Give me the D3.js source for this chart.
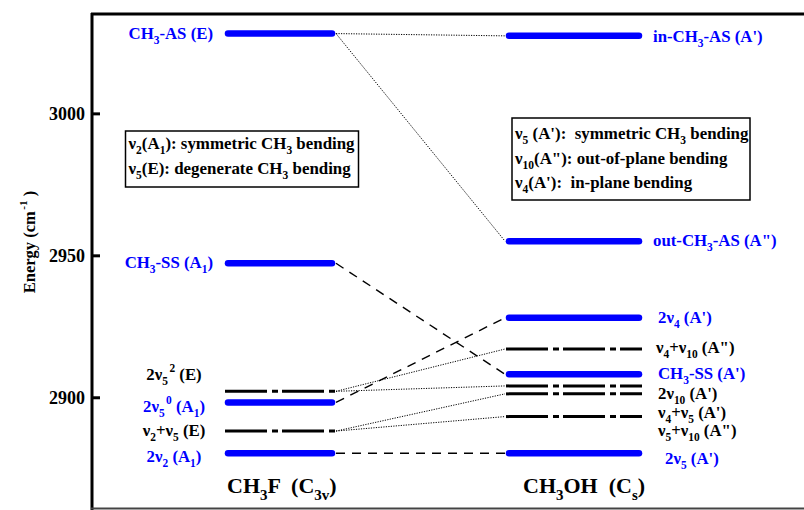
<!DOCTYPE html>
<html>
<head>
<meta charset="utf-8">
<script src="https://cdn.jsdelivr.net/npm/d3@7/dist/d3.min.js"></script>
<style>
  html, body { margin: 0; padding: 0; background: #ffffff; }
  text { font-family: "Liberation Serif", "Times New Roman", serif; font-weight: bold; white-space: pre; }
</style>
</head>
<body>
<script>
// ---- Vibrational levels (cm^-1) in the CH stretch region ----
// Markup in names: _{x} subscript, ^{x} superscript
const ch3fNames    = ["CH_{3}-AS (E)", "CH_{3}-SS (A_{1})", "2ν_{5}^{2} (E)", "2ν_{5}^{0} (A_{1})", "ν_{2}+ν_{5} (E)", "2ν_{2} (A_{1})"];
const ch3fEnergies = [3028.1, 2947.2, 2902.1, 2898.2, 2888.1, 2880.3];
const ch3fBright   = [true, true, false, true, false, true];

const ch3ohNames    = ["in-CH_{3}-AS (A')", "out-CH_{3}-AS (A\")", "2ν_{4} (A')", "ν_{4}+ν_{10} (A\")", "CH_{3}-SS (A')", "2ν_{10} (A')", "ν_{4}+ν_{5} (A')", "ν_{5}+ν_{10} (A\")", "2ν_{5} (A')"];
const ch3ohEnergies = [3027.3, 2955.0, 2928.0, 2917.0, 2908.1, 2904.0, 2901.2, 2893.2, 2880.3];
const ch3ohBright   = [true, true, true, false, true, false, false, false, true];

// Correlations between CH3F levels (from) and CH3OH levels (to)
const linkFrom  = ["CH_{3}-AS (E)", "CH_{3}-AS (E)", "CH_{3}-SS (A_{1})", "2ν_{5}^{0} (A_{1})", "2ν_{2} (A_{1})", "2ν_{5}^{2} (E)", "2ν_{5}^{2} (E)", "ν_{2}+ν_{5} (E)", "ν_{2}+ν_{5} (E)"];
const linkTo    = ["in-CH_{3}-AS (A')", "out-CH_{3}-AS (A\")", "CH_{3}-SS (A')", "2ν_{4} (A')", "2ν_{5} (A')", "ν_{4}+ν_{10} (A\")", "2ν_{10} (A')", "ν_{4}+ν_{5} (A')", "ν_{5}+ν_{10} (A\")"];
const linkKind  = ["dotted", "dotted", "dashed", "dashed", "dashed", "dotted", "dotted", "dotted", "dotted"];

const yTicks = [2900, 2950, 3000];
const yDomain = [2861, 3035];

const molecules = ["CH_{3}F  (C_{3v})", "CH_{3}OH  (C_{s})"];
const legendCH3F  = ["ν_{2}(A_{1}): symmetric CH_{3} bending", "ν_{5}(E): degenerate CH_{3} bending"];
const legendCH3OH = ["ν_{5} (A'):  symmetric CH_{3} bending", "ν_{10}(A\"): out-of-plane bending", "ν_{4}(A'):  in-plane bending"];

// ---- Drawing ----
const W = 804, H = 510;
const BLUE = "#0000ff";
const svg = d3.select("body").append("svg").attr("width", W).attr("height", H);

const y = d3.scaleLinear().domain(yDomain).range([508, 14]);

// column extents for the two molecules
const col = [{x0: 225, x1: 335}, {x0: 506, x1: 642}];

// rich text with sub/superscripts
function rich(sel, str, size) {
  const re = /(_\{[^}]*\}|\^\{[^}]*\}|[^_^]+)/g;
  let shift = 0, m;
  while ((m = re.exec(str)) !== null) {
    const tok = m[0];
    let target = 0, sz = size, content = tok, dx = 0;
    if (tok.startsWith("_{")) { target = 0.3 * size; sz = 0.68 * size; content = tok.slice(2, -1); }
    else if (tok.startsWith("^{")) { target = -0.5 * size; sz = 0.68 * size; content = tok.slice(2, -1); dx = 1.5; }
    sel.append("tspan").attr("dy", target - shift).attr("dx", dx).style("font-size", sz + "px").text(content);
    shift = target;
  }
  return sel;
}

// spines
svg.append("line").attr("x1", 92).attr("x2", 92).attr("y1", 13).attr("y2", 510)
  .attr("stroke", "#000").attr("stroke-width", 3);
svg.append("line").attr("x1", 91).attr("x2", W).attr("y1", 14).attr("y2", 14)
  .attr("stroke", "#000").attr("stroke-width", 3);
svg.append("line").attr("x1", 91).attr("x2", W).attr("y1", 508.5).attr("y2", 508.5)
  .attr("stroke", "#444").attr("stroke-width", 2);

// y axis with inward ticks
const axis = svg.append("g").attr("transform", "translate(92,0)")
  .call(d3.axisLeft(y).tickValues(yTicks).tickSize(-8).tickPadding(7).tickFormat(d3.format("d")));
axis.select(".domain").remove();
axis.selectAll(".tick line").attr("stroke", "#000").attr("stroke-width", 3);
axis.selectAll(".tick text").attr("fill", "#000")
  .style("font-family", "'Liberation Serif', serif").style("font-weight", "bold").style("font-size", "18px");

// axis title
const title = svg.append("text").attr("transform", "translate(35,242) rotate(-90)")
  .attr("text-anchor", "middle").attr("fill", "#000");
rich(title, "Energy (cm^{-1} )", 16.5);

// level records
const left = ch3fNames.map((n, i) => ({name: n, e: ch3fEnergies[i], bright: ch3fBright[i], c: 0}));
const right = ch3ohNames.map((n, i) => ({name: n, e: ch3ohEnergies[i], bright: ch3ohBright[i], c: 1}));
const byName = new Map([...left, ...right].map(d => [d.name, d]));

// correlation lines
const links = linkFrom.map((f, i) => ({a: byName.get(f), b: byName.get(linkTo[i]), kind: linkKind[i]}));
svg.append("g").selectAll("line").data(links).join("line")
  .attr("x1", col[0].x1 + 1).attr("x2", col[1].x0 - 1)
  .attr("y1", d => y(d.a.e)).attr("y2", d => y(d.b.e))
  .attr("stroke", "#000")
  .attr("stroke-width", d => d.kind === "dashed" ? 1.4 : 1)
  .attr("stroke-dasharray", d => d.kind === "dashed" ? "9,7" : "1.2,1.3");

// level bars
const levels = [...left, ...right];
svg.append("g").selectAll("line").data(levels).join("line")
  .attr("x1", d => col[d.c].x0 + (d.bright ? 3 : 0))
  .attr("x2", d => col[d.c].x1 - (d.bright ? 3 : 0))
  .attr("y1", d => y(d.e)).attr("y2", d => y(d.e))
  .attr("stroke", d => d.bright ? BLUE : "#000")
  .attr("stroke-width", d => d.bright ? 6.5 : 3)
  .attr("stroke-linecap", d => d.bright ? "round" : "butt")
  .attr("stroke-dasharray", d => d.bright ? null : "42,5,6,4");

// level labels: vertical nudges (px) and horizontal placement
const nudge = {
  "2ν_{5}^{2} (E)": -16, "2ν_{5}^{0} (A_{1})": 5, "2ν_{2} (A_{1})": 4,
  "ν_{4}+ν_{10} (A\")": -1, "2ν_{10} (A')": 8, "ν_{4}+ν_{5} (A')": 19, "ν_{5}+ν_{10} (A\")": 14, "2ν_{5} (A')": 6,
  "in-CH_{3}-AS (A')": 1
};
const LS = 16.8;
levels.forEach(d => {
  const t = svg.append("text").attr("fill", d.bright ? BLUE : "#000")
    .attr("y", y(d.e) + (nudge[d.name] || 0) + 5);
  if (d.c === 0) {
    if (d.e > 2940) t.attr("x", 213).attr("text-anchor", "end");
    else t.attr("x", 174).attr("text-anchor", "middle");
  } else {
    let x = 658;
    if (d.e > 2940) x = 653;
    if (d.name === "ν_{4}+ν_{10} (A\")") x = 656;
    if (d.name === "2ν_{5} (A')") x = 665;
    t.attr("x", x).attr("text-anchor", "start");
  }
  rich(t, d.name, LS);
});

// molecule labels
[227, 523].forEach((x, i) => {
  const t = svg.append("text").attr("x", x).attr("y", 493).attr("fill", "#000");
  rich(t, molecules[i], 22);
});

// legend boxes
function legend(lines, x, yTop, w, h, firstBaseline, step) {
  svg.append("rect").attr("x", x).attr("y", yTop).attr("width", w).attr("height", h)
    .attr("fill", "#fff").attr("stroke", "#000").attr("stroke-width", 1.5);
  lines.forEach((s, i) => {
    const t = svg.append("text").attr("x", x + 3).attr("y", firstBaseline + i * step).attr("fill", "#000");
    rich(t, s, 16.9);
  });
}
legend(legendCH3F, 125.5, 131, 233, 56, 149, 25);
legend(legendCH3OH, 512, 118, 238, 82, 139, 24.5);
</script>
</body>
</html>
